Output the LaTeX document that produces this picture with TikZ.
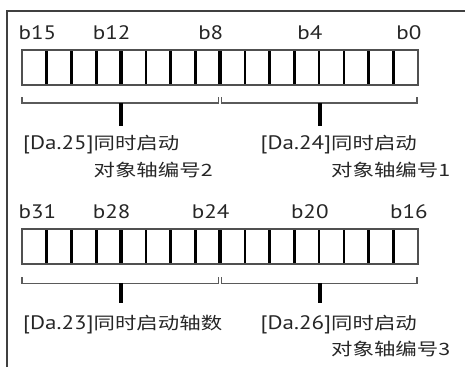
\documentclass[tikz,border=0pt]{standalone}
\usepackage{fontspec}
\newfontfamily\lat[FakeStretch=1.18]{PT Sans}
\newfontfamily\cjk[FakeStretch=1.26]{Noto Sans CJK SC}
\definecolor{txt}{HTML}{262626}
\definecolor{boxgray}{HTML}{505050}
\definecolor{brgray}{HTML}{5A5A5A}
\newcommand{\latf}{\lat\fontsize{19.5}{26.5}\selectfont}
\newcommand{\descbox}[3]{\begin{tabular}[t]{@{}l@{}l@{}}{\latf #1}&#2\\ &#3\end{tabular}}
\begin{document}
\begin{tikzpicture}[x=1pt,y=-1pt,
  bitlbl/.style={anchor=base,inner sep=0pt,text=txt,font=\latf},
  desc/.style={anchor=base west,inner sep=0pt,text=txt,font=\cjk\fontsize{17}{26.5}\selectfont},
  regbox/.style={draw=boxgray,line width=2.2pt},
  divider/.style={draw=black,line width=2.6pt},
  thickdiv/.style={draw=black,line width=3.8pt},
  bracket/.style={draw=brgray,line width=1.6pt},
  stem/.style={draw=black,line width=3.4pt},
  frame/.style={draw=black!75,line width=1.5pt}]
\useasboundingbox (0,0) rectangle (465,367);
\pgfmathsetmacro{\w}{(418.25-22)/16}
% frame
\draw[frame] (7,367) -- (7,11) -- (465,11);
% ---------- register 1 ----------
\foreach \i in {1,2,3,5,6,7,9,10,11,12,13,14,15}
  \draw[divider] ({22+\i*\w},50) -- ({22+\i*\w},85);
\foreach \i in {4,8}
  \draw[thickdiv] ({22+\i*\w},50) -- ({22+\i*\w},85);
\draw[regbox] (22,50) rectangle (418.25,85);
\node[bitlbl] (b15) at ({22+0.5*\w+3},39.3) {b15};
\node[bitlbl] (b12) at ({22+3.5*\w+3},39.3) {b12};
\node[bitlbl] (b8)  at ({22+7.5*\w+3},39.3) {b8};
\node[bitlbl] (b4)  at ({22+11.5*\w+3},39.3) {b4};
\node[bitlbl] (b0)  at ({22+15.5*\w+3},39.3) {b0};
\draw[bracket] (22,97) -- (22,103) -- (218.5,103) -- (218.5,97);
\draw[bracket] (221.5,97) -- (221.5,103) -- (417,103) -- (417,97);
\coordinate (s1a) at (121,103); \coordinate (s1b) at (121,125.5);
\coordinate (s2a) at (320,103); \coordinate (s2b) at (320,125.5);
\draw[stem] (s1a) -- (s1b);
\draw[stem] (s2a) -- (s2b);
\node[desc] (d25) at (23,149.5) {\descbox{[Da.25]}{同时启动}{对象轴编号2}};
\node[desc] (d24) at (260.5,149.5) {\descbox{[Da.24]}{同时启动}{对象轴编号1}};
% ---------- register 2 ----------
\foreach \i in {1,2,3,5,6,7,9,10,11,12,13,14,15}
  \draw[divider] ({22+\i*\w},229.3) -- ({22+\i*\w},264);
\foreach \i in {4,8}
  \draw[thickdiv] ({22+\i*\w},229.3) -- ({22+\i*\w},264);
\draw[regbox] (22,229.3) rectangle (418.25,264);
\node[bitlbl] (b31) at ({22+0.5*\w+3},218.3) {b31};
\node[bitlbl] (b28) at ({22+3.5*\w+3},218.3) {b28};
\node[bitlbl] (b24) at ({22+7.5*\w+3},218.3) {b24};
\node[bitlbl] (b20) at ({22+11.5*\w+3},218.3) {b20};
\node[bitlbl] (b16) at ({22+15.5*\w+3},218.3) {b16};
\draw[bracket] (22,277) -- (22,283.3) -- (218.5,283.3) -- (218.5,277);
\draw[bracket] (221.5,277) -- (221.5,283.3) -- (417,283.3) -- (417,277);
\coordinate (s3a) at (121,283.3); \coordinate (s3b) at (121,302.7);
\coordinate (s4a) at (320,283.3); \coordinate (s4b) at (320,302.7);
\draw[stem] (s3a) -- (s3b);
\draw[stem] (s4a) -- (s4b);
\node[desc] (d23) at (23,329) {{\latf [Da.23]}同时启动轴数};
\node[desc] (d26) at (260.5,329) {\descbox{[Da.26]}{同时启动}{对象轴编号3}};
\end{tikzpicture}
\end{document}
